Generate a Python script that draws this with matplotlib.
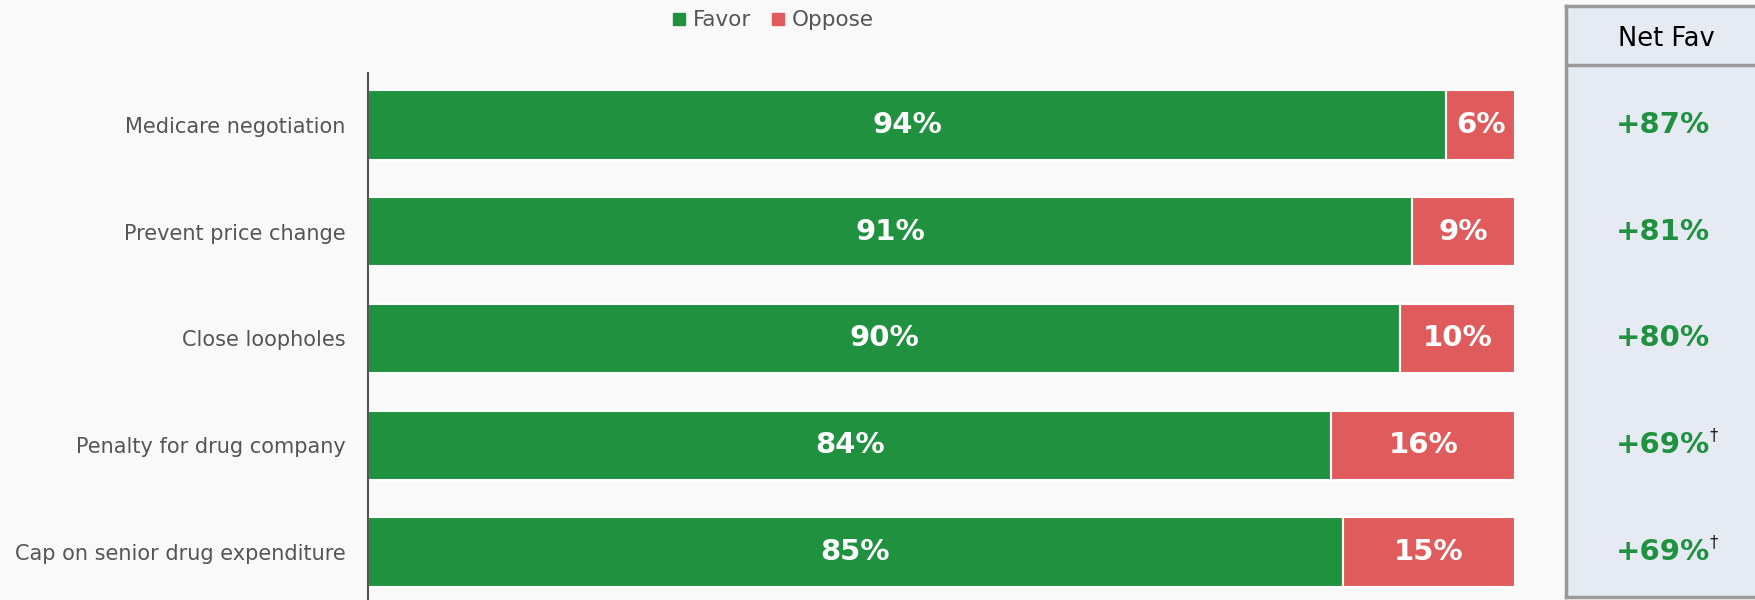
import matplotlib.pyplot as plt
import matplotlib.transforms as mtransforms
from matplotlib.lines import Line2D

# data
categories = ["Medicare negotiation", "Prevent price change", "Close loopholes",
              "Penalty for drug company", "Cap on senior drug expenditure"]
favor = [94, 91, 90, 84, 85]
oppose = [6, 9, 10, 16, 15]
net_fav = ["+87%", "+81%", "+80%", "+69%", "+69%"]
net_dagger = [False, False, False, True, True]

GREEN = "#1F913F"
RED = "#E05C5C"
BG = "#F9F9F9"
GRAY = "#555555"

fig = plt.figure(figsize=(17.56, 6.0), dpi=100)
fig.patch.set_facecolor(BG)

# main bar axes
ax = fig.add_axes([368 / 1756, 0.0, 1147 / 1756, 527 / 600])
ax.set_facecolor(BG)
ypos = list(range(len(categories)))
ax.barh(ypos, favor, height=0.65, color=GREEN, edgecolor="white", linewidth=1.5)
ax.barh(ypos, oppose, left=favor, height=0.65, color=RED, edgecolor="white", linewidth=1.5)

for y, f, o in zip(ypos, favor, oppose):
    ax.text(f / 2, y, f"{f}%", ha="center", va="center", color="white",
            fontsize=21, fontweight="bold")
    ax.text(f + o / 2, y, f"{o}%", ha="center", va="center", color="white",
            fontsize=21, fontweight="bold")

ax.set_xlim(0, 100)
ax.set_ylim(4.45, -0.487)
ax.set_yticks(ypos)
ax.set_yticklabels(categories, fontsize=15, color=GRAY)
ax.tick_params(axis="y", length=0, pad=16)
ax.set_xticks([])
for s in ["top", "right", "bottom"]:
    ax.spines[s].set_visible(False)
ax.spines["left"].set_color(GRAY)
ax.spines["left"].set_linewidth(1.5)

# legend
handles = [Line2D([], [], marker="s", ls="", color=GREEN, markersize=8),
           Line2D([], [], marker="s", ls="", color=RED, markersize=8)]
fig.legend(handles, ["Favor", "Oppose"], loc="upper center",
           bbox_to_anchor=(770 / 1756, 1.015), ncol=2, frameon=False,
           fontsize=15.5, labelcolor=GRAY, handletextpad=0.05, columnspacing=0.6,
           handlelength=1.2)

# Net Fav panel
pan = fig.add_axes([1566 / 1756, 3 / 600, 200 / 1756, 591 / 600])
pan.set_facecolor("#E6EAF3")
pan.set_xticks([])
pan.set_yticks([])
for s in pan.spines.values():
    s.set_color("#999999")
    s.set_linewidth(2.5)
pan.spines["right"].set_visible(False)
pan.axhline(0.90, color="#999999", lw=2.5)
pan.text(0.5, 0.945, "Net Fav", ha="center", va="center", fontsize=18.5,
         color="black", transform=pan.transAxes)

trans = mtransforms.blended_transform_factory(pan.transAxes, ax.transData)
for y, v, d in zip(ypos, net_fav, net_dagger):
    t = pan.text(0.485, y, v, ha="center", va="center", fontsize=21,
                 fontweight="bold", color=GREEN, transform=trans)
    if d:
        pan.annotate("\u2020", xy=(0.99, 0.85), xycoords=t, ha="left", va="center",
                     fontsize=12, color="#222222")

fig.savefig("out.png", dpi=100, facecolor=BG)
